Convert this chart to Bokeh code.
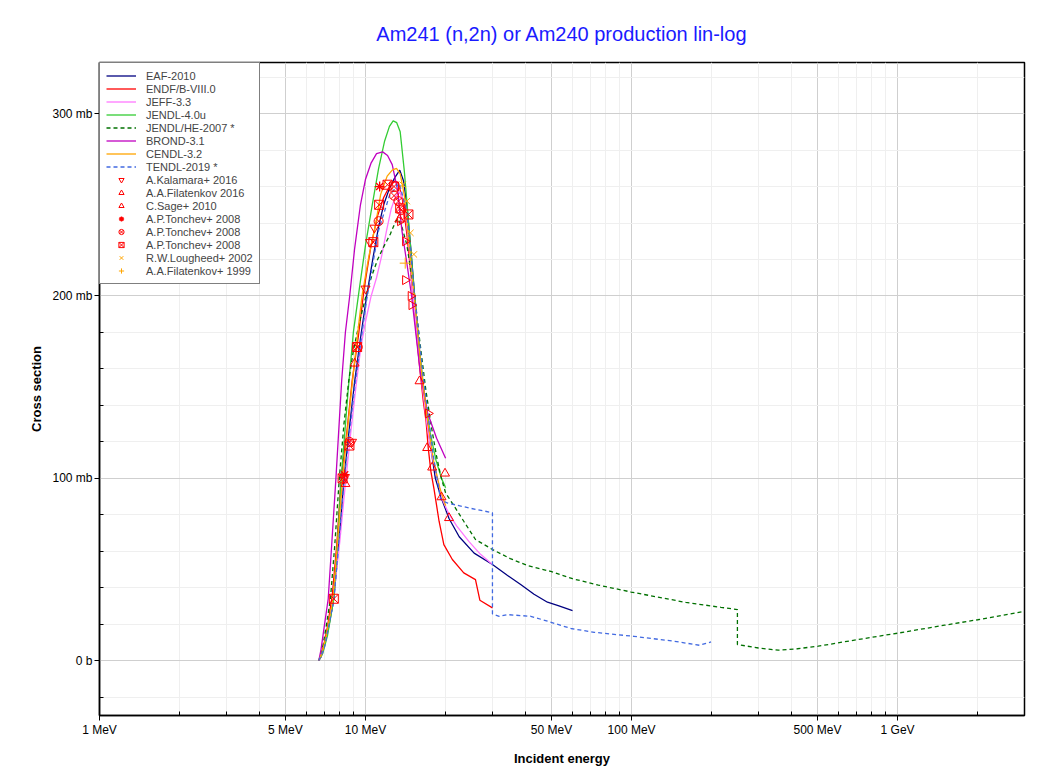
import numpy as np
from bokeh.plotting import figure
from bokeh.models import FixedTicker, Range1d, ColumnDataSource
from bokeh.embed import file_html
from bokeh.resources import INLINE

# ---------------- evaluated data (E in MeV, cross section in mb) ----------------
eaf_e = [6.67, 6.8, 7.0, 7.3, 7.6, 8.0, 8.3, 8.7, 9.1, 9.6, 10.1, 10.7, 11.2, 11.7, 12.3, 12.9, 13.45, 13.9,
         14.3, 14.8, 15.3, 16.0, 16.8, 17.5, 18.3, 19.3, 20.6, 22.5, 25.6, 30.0, 34.0, 38.3, 43.0, 48.3, 53.0, 60.0]
eaf_s = [0, 2, 8, 20, 34, 70, 100, 128, 153, 178, 200, 222, 238, 250, 259, 265, 269, 263,
         250, 226, 200, 168, 138, 119, 100, 89, 78, 68, 59, 52.8, 47, 41.8, 36.5, 32.1, 30.2, 27.5]

endf_e = [6.67, 6.8, 7.0, 7.2, 7.5, 7.8, 8.1, 8.5, 8.9, 9.4, 9.9, 10.5, 11.1, 11.7, 12.3, 12.9, 13.3, 13.8,
          14.3, 14.9, 15.4, 16.0, 16.5, 16.9, 17.2, 17.6, 18.1, 18.9, 19.7, 21.2, 23.4, 25.9, 26.9, 30.0]
endf_s = [0, 3, 10, 19, 36, 64, 100, 125, 153, 178, 205, 228, 244, 254, 260, 263, 262, 252,
          234, 208, 185, 160, 142, 131, 117, 104, 94, 76.5, 63.7, 55.5, 48.2, 44.5, 33.2, 29]

jeff_e = [6.67, 6.9, 7.2, 7.6, 8.0, 8.4, 8.8, 9.2, 9.6, 10.0, 10.5, 11.0, 11.5, 12.0, 12.5, 13.0, 13.5, 14.0,
          14.5, 15.0, 15.6, 16.3, 17.0, 17.8, 18.6, 19.5, 20.5, 22.0, 24.5, 27.0, 30.0]
jeff_s = [0, 4, 15, 36, 65, 97, 125, 150, 172, 186, 200, 210, 222, 236, 248, 255, 257, 250,
          230, 205, 178, 152, 130, 112, 100, 88, 81, 74, 65.3, 58.5, 52.8]

j40_e = [6.67, 6.9, 7.2, 7.6, 7.85, 8.1, 8.6, 9.0, 9.5, 10.0, 10.6, 11.2, 11.8, 12.3, 12.7, 13.1, 13.5, 14.0,
         14.3, 14.8, 15.3, 16.0, 16.7, 17.5, 18.4, 19.3, 20.0]
j40_s = [0, 4, 14, 34, 65, 100, 148, 180, 205, 228, 250, 270, 285, 293, 296, 295, 290, 268,
         252, 225, 200, 168, 145, 125, 110, 100, 94.8]

jhe_e = [6.67, 6.85, 7.1, 7.38, 7.65, 7.97, 8.3, 8.64, 9.0, 9.5, 10.0, 10.5, 11.1, 11.8, 12.4, 12.9, 13.2, 13.7,
         14.3, 14.8, 15.3, 16.0, 16.8, 17.6, 18.5, 19.2, 20.0, 21.5, 23.4, 25.9, 30.0, 35.0, 41.0, 49.7, 60.0,
         75.0, 99.6, 130, 160, 217, 250, 250, 300, 356, 420, 503, 700, 1007, 1500, 2000, 3000]
jhe_s = [0, 5, 18, 34, 62, 100, 130, 153, 170, 186, 199, 210, 220, 228, 234, 240, 242.5, 238,
         228, 214, 200, 175, 150, 130, 112, 101, 92, 85, 76.5, 66.5, 61, 56, 52, 49, 45,
         41.5, 37.7, 34.5, 32, 29.3, 28.1, 8.9, 7.0, 5.8, 6.6, 8.0, 11.5, 15.2, 19.5, 22.5, 27.1]

brond_e = [6.67, 6.8, 7.0, 7.24, 7.45, 7.74, 8.13, 8.4, 8.72, 9.1, 9.57, 10.0, 10.5, 11.0, 11.6, 12.1, 12.6,
           13.2, 13.7, 14.3, 14.9, 15.5, 16.1, 17.1, 18.5, 20.0]
brond_s = [0, 6, 19, 34, 62, 100, 153, 180, 200, 226, 250, 264, 273, 278, 279, 277, 272,
           258, 236, 218, 200, 178, 157, 136, 122, 111]

cendl_e = [6.67, 6.85, 7.1, 7.55, 7.9, 8.2, 8.6, 9.0, 9.4, 9.7, 10.3, 10.9, 11.4, 12.06, 12.6, 13.07, 13.5,
           14.0, 14.5, 15.0, 15.5, 16.2, 17.0, 18.0, 19.0, 20.0]
cendl_s = [0, 4, 13, 34, 70, 100, 130, 158, 183, 200, 222, 239, 255.7, 265.7, 269, 270, 267,
           255, 232, 210, 190, 160, 135, 110, 95, 85]

tendl_e = [6.67, 7.0, 7.6, 8.3, 9.1, 10.1, 11.2, 12.3, 13.4, 14.3, 15.3, 16.5, 18.0, 19.15, 20.3, 25.0, 30.0,
           30.0, 31.8, 34.2, 41.8, 48.3, 59.2, 72.4, 102, 145, 180, 199]
tendl_s = [0, 7, 33, 98, 150, 198, 236, 255, 262, 246, 200, 155, 112, 88.4, 86.5, 83.5, 81.2,
           25.7, 24.4, 25.3, 24.4, 21.7, 17.7, 15.6, 13.4, 10.7, 8.5, 10.3]

# ---------------- experimental data ----------------
kal_e = [8.3, 8.9, 10.0, 10.4, 10.8]
kal_s = [100, 120, 204, 229.5, 237.4]

fil16_e = [13.5, 14.1, 14.1, 14.8, 14.9, 17.2]
fil16_s = [241, 230, 208.7, 200, 195, 135.6]

sage_e = [8.4, 9.1, 13.4, 15.96, 17.05, 17.8, 19.3, 19.9, 20.6]
sage_s = [97, 163, 242, 153.3, 116.7, 106, 89.7, 102.7, 78.3]

ton_ast_e = [8.35, 11.3]
ton_ast_s = [102, 260]

ton_cx_e = [8.7, 9.35, 11.2, 12.8, 13.3, 13.6]
ton_cx_s = [120, 172, 241, 255, 252, 247]

ton_sx_e = [7.6, 8.2, 8.7, 9.3, 10.7, 11.25, 12.1, 12.8, 13.5, 14.5]
ton_sx_s = [34, 100, 118, 172, 229.5, 250, 261, 260, 248, 244.7]

lough_e = [13.8, 14.3, 14.75, 15.2]
lough_s = [261, 252, 234.6, 222.8]

fil99_e = [14.1]
fil99_s = [218]

# ---------------- axis ticks ----------------
x_ticks = [1, 5, 10, 50, 100, 500, 1000]
x_labels = ["1 MeV", "5 MeV", "10 MeV", "50 MeV", "100 MeV", "500 MeV", "1 GeV"]
x_minor = [2, 3, 4, 6, 7, 8, 9, 20, 30, 40, 60, 70, 80, 90, 200, 300, 400, 600, 700, 800, 900, 2000, 3000]
y_ticks = [0, 100, 200, 300]
y_labels = ["0 b", "100 mb", "200 mb", "300 mb"]
y_minor = [-20, 20, 40, 60, 80, 120, 140, 160, 180, 220, 240, 260, 280, 320]

FONT = "Liberation Sans"

p = figure(frame_width=925, frame_height=653, x_axis_type="log",
           x_range=Range1d(1, 3000), y_range=Range1d(-30, 328),
           output_backend="svg", toolbar_location=None,
           min_border_left=99, min_border_right=20, min_border_top=62, min_border_bottom=52,
           background_fill_color="white", border_fill_color="white")

p.title.text = "Am241 (n,2n) or Am240 production lin-log"
p.title.align = "center"
p.title.text_font = FONT
p.title.text_font_size = "20px"
p.title.text_font_style = "normal"
p.title.text_color = "#1a1aff"
p.title.standoff = 35

p.outline_line_color = "black"
p.outline_line_width = 1.5
p.outline_line_alpha = 1

# x axis
p.xaxis.ticker = FixedTicker(ticks=x_ticks, minor_ticks=x_minor)
p.xaxis.major_label_overrides = {t: l for t, l in zip(x_ticks, x_labels)}
p.xaxis.axis_label = "Incident energy"
# y axis
p.yaxis.ticker = FixedTicker(ticks=y_ticks, minor_ticks=y_minor)
p.yaxis.major_label_overrides = {t: l for t, l in zip(y_ticks, y_labels)}
p.yaxis.axis_label = "Cross section"

for ax in (p.xaxis[0], p.yaxis[0]):
    ax.axis_line_color = "black"
    ax.axis_line_width = 1.5
    ax.major_tick_line_color = "black"
    ax.minor_tick_line_color = "black"
    ax.major_tick_out = 5
    ax.major_tick_in = 0
    ax.minor_tick_out = 0
    ax.minor_tick_in = 4
    ax.major_label_standoff = 2
    ax.major_label_text_font = FONT
    ax.major_label_text_font_size = "12px"
    ax.major_label_text_color = "black"
    ax.axis_label_text_font = FONT
    ax.axis_label_text_font_size = "13px"
    ax.axis_label_text_font_style = "bold"
    ax.axis_label_text_color = "black"
p.xaxis.axis_label_standoff = 11
p.yaxis.axis_label_standoff = 5

p.xgrid.grid_line_color = "#cfcfcf"
p.ygrid.grid_line_color = "#cfcfcf"
p.xgrid.minor_grid_line_color = "#efefef"
p.ygrid.minor_grid_line_color = "#efefef"
p.xgrid.grid_line_width = 1
p.ygrid.grid_line_width = 1

LW = 1.3
p.line(eaf_e, eaf_s, color="#000080", line_width=LW, legend_label="EAF-2010")
p.line(endf_e, endf_s, color="#ff0000", line_width=LW, legend_label="ENDF/B-VIII.0")
p.line(jeff_e, jeff_s, color="#ff77ff", line_width=LW, legend_label="JEFF-3.3")
p.line(j40_e, j40_s, color="#33cc33", line_width=LW, legend_label="JENDL-4.0u")
p.line(jhe_e, jhe_s, color="#007000", line_width=LW, line_dash="4 3", legend_label="JENDL/HE-2007 *")
p.line(brond_e, brond_s, color="#c000c0", line_width=LW, legend_label="BROND-3.1")
p.line(cendl_e, cendl_s, color="#ffa500", line_width=LW, legend_label="CENDL-3.2")
p.line(tendl_e, tendl_s, color="#4169e1", line_width=LW, line_dash="4 3", legend_label="TENDL-2019 *")

MS = 9
RED = "#ff0000"
OR = "#ffa500"
p.scatter(kal_e, kal_s, marker="inverted_triangle", size=MS, fill_color=None, line_color=RED,
          legend_label="A.Kalamara+ 2016")
fil16_src = ColumnDataSource(dict(x=fil16_e, y=fil16_s, ang=[-np.pi / 2] * len(fil16_e)))
p.scatter("x", "y", source=fil16_src, marker="triangle", angle="ang", size=MS, fill_color=None,
          line_color=RED, legend_label="A.A.Filatenkov 2016")
p.scatter(sage_e, sage_s, marker="triangle", size=MS, fill_color=None, line_color=RED,
          legend_label="C.Sage+ 2010")
p.scatter(ton_ast_e, ton_ast_s, marker="asterisk", size=MS + 1, line_color=RED, line_width=1.3,
          legend_label="A.P.Tonchev+ 2008")
p.scatter(ton_cx_e, ton_cx_s, marker="circle_x", size=MS, fill_color=None, line_color=RED,
          legend_label="A.P.Tonchev+ 2008 ")
p.scatter(ton_sx_e, ton_sx_s, marker="square_x", size=MS, fill_color=None, line_color=RED,
          legend_label="A.P.Tonchev+ 2008  ")
p.scatter(lough_e, lough_s, marker="x", size=MS, line_color=OR, legend_label="R.W.Lougheed+ 2002")
p.scatter(fil99_e, fil99_s, marker="cross", size=MS + 2, line_color=OR, legend_label="A.A.Filatenkov+ 1999")

lg = p.legend[0]
lg.location = "top_left"
lg.margin = 0
lg.padding = 6
lg.spacing = 0
lg.glyph_width = 30
lg.glyph_height = 13
lg.label_height = 13
lg.label_standoff = 10
lg.label_text_font = FONT
lg.label_text_font_size = "11px"
lg.label_text_line_height = 0.9
lg.item_background_fill_alpha = 0
lg.border_line_color = "black"
lg.border_line_width = 1
lg.background_fill_color = "white"
lg.background_fill_alpha = 1

open("out.html", "w").write(file_html(p, INLINE))
